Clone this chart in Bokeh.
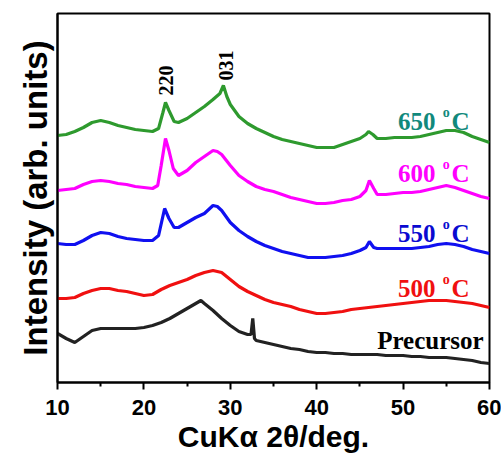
from bokeh.plotting import figure
from bokeh.models import Range1d, FixedTicker, Label
from bokeh.embed import file_html
from bokeh.resources import INLINE
import math

# ---- data (intensity in arbitrary units, traces offset) ----
x_650 = [10, 11, 12, 13, 14, 15, 16, 17, 18, 19, 20, 21, 21.7, 22.2, 22.5, 22.9, 23.5, 24, 25, 26, 27, 28, 28.8, 29.2, 29.6, 30,
         31, 32, 33, 34, 35, 36, 37, 38, 39, 40, 41, 42, 43, 44, 45, 45.7, 46, 46.5, 47, 48, 49, 50, 51, 52, 53, 54, 55, 56,
         57, 58, 59, 60]
y_650 = [247, 248, 251, 255, 260, 262, 260, 257, 255, 253, 252, 251, 254, 270, 280, 272, 261, 260, 264, 270, 276, 283, 289, 297, 286, 278,
         266, 259, 254, 250, 246, 243, 241, 239, 237, 235, 235, 235, 238, 241, 244, 248, 251, 248, 244, 244, 245, 245, 245, 246, 248, 250, 252, 252,
         250, 246, 243, 240]

x_600 = [10, 11, 12, 13, 14, 15, 16, 17, 18, 19, 20, 21, 21.6, 22.0, 22.5, 22.9, 23.4, 24, 25, 26, 27, 28, 28.5, 29, 30,
         31, 32, 33, 34, 35, 36, 37, 38, 39, 40, 41, 42, 43, 44, 45, 45.7, 46.1, 46.6, 47, 48, 49, 50, 51, 52, 53, 54, 55, 56,
         57, 58, 59, 60]
y_600 = [192, 193, 194, 198, 201, 202, 201, 199, 198, 196, 195, 194, 197, 217, 244, 232, 214, 207, 212, 220, 226, 232, 231, 228, 217,
         207, 201, 196, 193, 191, 188, 185, 183, 181, 179, 179, 180, 182, 183, 186, 192, 202, 194, 188, 188, 189, 190, 190, 191, 193, 195, 197, 195,
         192, 189, 186, 184]

x_550 = [10, 11, 12, 13, 14, 15, 16, 17, 18, 19, 20, 21, 21.7, 22.4, 22.9, 23.5, 24, 25, 26, 27, 28, 28.5, 29, 30,
         31, 32, 33, 34, 35, 36, 37, 38, 39, 40, 41, 42, 43, 44, 45, 45.7, 46.1, 46.6, 47, 48, 49, 50, 51, 52, 53, 54, 55, 56,
         57, 58, 59, 60]
y_550 = [139, 138, 138, 142, 147, 150, 149, 146, 144, 143, 142, 142, 147, 174, 164, 155, 155, 160, 165, 169, 177, 176, 172, 160,
         152, 146, 141, 137, 134, 131, 129, 127, 125, 125, 125, 126, 127, 129, 132, 135, 141, 135, 134, 134, 134, 134, 134, 135, 136, 138, 139, 138,
         136, 133, 131, 129]

x_500 = [10, 11, 12, 13, 14, 15, 16, 17, 18, 19, 20, 21, 22, 23, 24, 25, 26, 27, 28, 29, 30,
         31, 32, 33, 34, 35, 36, 37, 38, 39, 40, 41, 42, 43, 44, 45, 46, 47, 48, 49, 50, 51, 52, 53, 54, 55, 56,
         57, 58, 59, 60]
y_500 = [84, 84, 85, 89, 92, 94, 94, 92, 91, 89, 87, 88, 93, 97, 100, 103, 107, 110, 112, 110, 103,
         96, 91, 87, 83, 80, 78, 76, 73, 71, 69, 69, 70, 71, 73, 74, 75, 76, 77, 78, 79, 80, 81, 82, 82, 82, 81,
         80, 79, 77, 75]

x_pre = [10, 11, 12, 13, 14, 15, 16, 17, 18, 19, 20, 21, 22, 23, 24, 25, 26, 26.6, 27, 28, 29, 30,
         31, 32, 32.4, 32.6, 32.8, 33, 34, 35, 36, 37, 38, 39, 40, 41, 42, 43, 44, 45, 46, 47, 48, 49, 50, 51, 52, 53, 54, 55, 56,
         57, 58, 59, 60]
y_pre = [49, 44, 40, 46, 52, 54, 54, 54, 54, 54, 55, 57, 60, 64, 69, 74, 79, 82, 79, 72, 64, 57,
         51, 48, 48, 64, 44, 42, 40, 38, 36, 34, 33, 31, 30, 30, 29, 29, 28, 28, 28, 28, 27, 27, 27, 26, 26, 25, 25, 25, 24,
         23, 22, 20, 19]

series_names = ["650 \u00b0C", "600 \u00b0C", "550 \u00b0C", "500 \u00b0C", "Precursor"]
xticks = [10, 20, 30, 40, 50, 60]
xminor = [15, 25, 35, 45, 55]
peak_labels = ["220", "031"]
peak_pos = [22.5, 29.45]
peak_y = [287, 302]

# ---- figure ----
p = figure(frame_width=432, frame_height=369, output_backend="svg", toolbar_location=None,
           x_range=Range1d(10, 60), y_range=Range1d(0, 369),
           min_border_left=57, min_border_right=12, min_border_top=13, min_border_bottom=81)
p.background_fill_color = "white"
p.border_fill_color = "white"
p.grid.visible = False
p.outline_line_color = "black"
p.outline_line_width = 2

lw = 3.2
p.line(x_650, y_650, line_color="#2e9a2e", line_width=lw)
p.line(x_600, y_600, line_color="#ff00ff", line_width=lw)
p.line(x_550, y_550, line_color="#1010f0", line_width=lw)
p.line(x_500, y_500, line_color="#f01010", line_width=lw)
p.line(x_pre, y_pre, line_color="#222222", line_width=lw)

# axes
p.xaxis.ticker = FixedTicker(ticks=xticks, minor_ticks=xminor)
p.xaxis.axis_label = "CuK\u03b1 2\u03b8/deg."
p.xaxis.axis_label_text_font = "Liberation Sans"
p.xaxis.axis_label_text_font_style = "bold"
p.xaxis.axis_label_text_font_size = "30px"
p.xaxis.axis_label_text_color = "black"
p.xaxis.axis_label_standoff = 2
p.xaxis.major_label_text_font = "Liberation Sans"
p.xaxis.major_label_text_font_style = "bold"
p.xaxis.major_label_text_font_size = "22px"
p.xaxis.major_label_text_color = "black"
p.xaxis.major_label_standoff = 10
p.xaxis.major_tick_out = 7
p.xaxis.major_tick_in = 0
p.xaxis.minor_tick_out = 4
p.xaxis.minor_tick_in = 0
p.xaxis.axis_line_width = 2
p.xaxis.axis_line_color = "black"
p.xaxis.major_tick_line_width = 2
p.xaxis.major_tick_line_color = "black"
p.xaxis.minor_tick_line_width = 2
p.xaxis.minor_tick_line_color = "black"

p.yaxis.ticker = FixedTicker(ticks=[])
p.yaxis.major_label_text_font_size = "0px"
p.yaxis.major_tick_line_color = None
p.yaxis.minor_tick_line_color = None
p.yaxis.axis_line_width = 2
p.yaxis.axis_line_color = "black"
p.yaxis.axis_label = "Intensity (arb. units)"
p.yaxis.axis_label_text_font = "Liberation Sans"
p.yaxis.axis_label_text_font_style = "bold"
p.yaxis.axis_label_text_font_size = "33px"
p.yaxis.axis_label_text_color = "black"
p.yaxis.axis_label_standoff = 4

# series labels (number, superscript o, C)
serif = "Liberation Serif"
lab_colors = ["#11897c", "#ff00ff", "#0a0ad0", "#f01010"]
lab_nums = [s.split(" ")[0] for s in series_names[:4]]
lab_y = [261, 209, 149, 94]
for num, col, yy in zip(lab_nums, lab_colors, lab_y):
    p.add_layout(Label(x=49.4, y=yy, text=num, text_font=serif, text_font_style="bold",
                       text_font_size="25px", text_color=col, text_align="left", text_baseline="alphabetic"))
    p.add_layout(Label(x=54.6, y=yy + 9, text="o", text_font=serif, text_font_style="bold",
                       text_font_size="14px", text_color=col, text_align="left", text_baseline="alphabetic"))
    p.add_layout(Label(x=55.6, y=yy, text="C", text_font=serif, text_font_style="bold",
                       text_font_size="25px", text_color=col, text_align="left", text_baseline="alphabetic"))
p.add_layout(Label(x=47.0, y=42, text=series_names[4], text_font=serif, text_font_style="bold",
                   text_font_size="25px", text_color="black", text_align="left", text_baseline="alphabetic"))

for t, xx, yy in zip(peak_labels, peak_pos, peak_y):
    p.add_layout(Label(x=xx, y=yy, text=t, angle=math.pi / 2, text_font=serif, text_font_style="bold",
                       text_font_size="20px", text_color="black", text_align="left", text_baseline="middle"))

open("out.html", "w").write(file_html(p, INLINE))
